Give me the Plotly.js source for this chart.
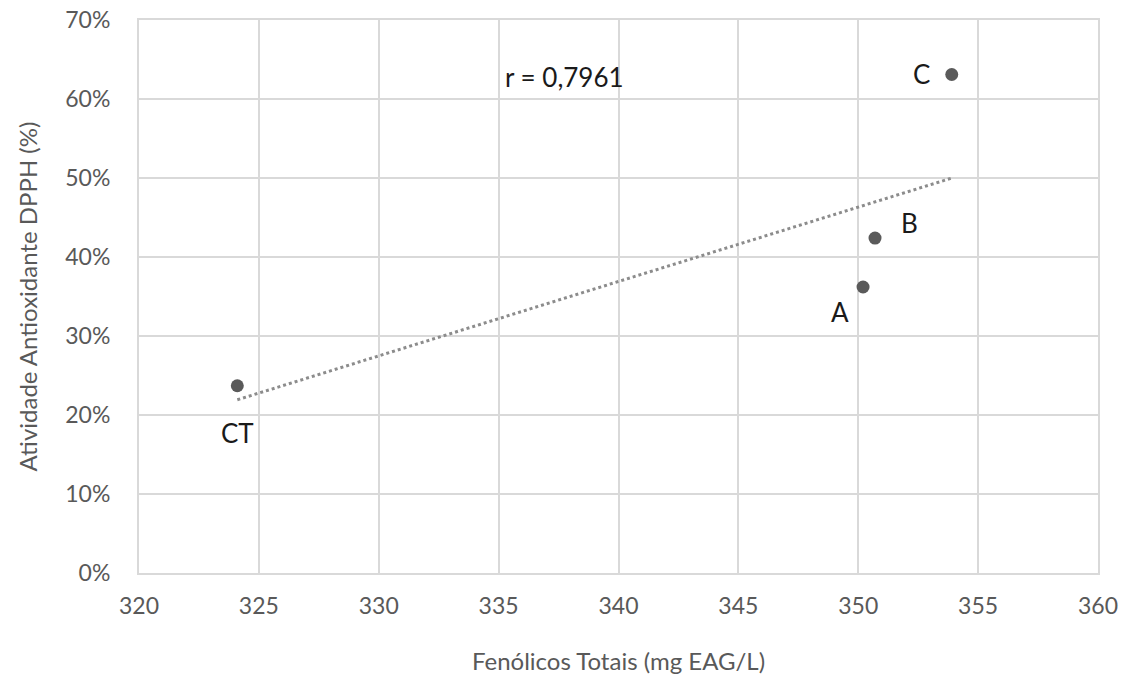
<!DOCTYPE html>
<html>
<head>
<meta charset="utf-8">
<script src="https://cdn.plot.ly/plotly-3.0.1.min.js"></script>
<style>html,body{margin:0;padding:0;background:#fff;}#chart{width:1134px;height:682px;}</style>
</head>
<body>
<div id="chart"></div>
<script>
// Data
const samples = ["CT", "A", "B", "C"];
const phenolics = [324.1, 350.2, 350.7, 353.9];      // mg EAG/L
const dpph = [0.237, 0.362, 0.424, 0.631];           // fraction
const rText = "r = 0,7961";
const xTicks = [320, 325, 330, 335, 340, 345, 350, 355, 360];
const yTicks = [0, 0.1, 0.2, 0.3, 0.4, 0.5, 0.6, 0.7];

// Linear regression (trendline)
const n = phenolics.length;
const mx = phenolics.reduce((a,b)=>a+b,0)/n;
const my = dpph.reduce((a,b)=>a+b,0)/n;
let sxy=0, sxx=0;
for (let i=0;i<n;i++){ sxy += (phenolics[i]-mx)*(dpph[i]-my); sxx += (phenolics[i]-mx)**2; }
const slope = sxy/sxx, icpt = my - slope*mx;
const xmin = Math.min(...phenolics), xmax = Math.max(...phenolics);
const trendX = [xmin, xmax];
const trendY = trendX.map(x => icpt + slope*x);

const labelOffsets = {CT:[0,-47], A:[-23,-25], B:[34,15], C:[-30,1]};

const traces = [
  {x: trendX, y: trendY, mode: "lines", type: "scatter",
   line: {color: "#8c8c8c", width: 3, dash: "dot"}, hoverinfo: "skip", showlegend: false},
  {x: phenolics, y: dpph, mode: "markers", type: "scatter",
   marker: {color: "#5a5a5a", size: 13}, showlegend: false}
];

const labelFont = {family: "Lato, 'Open Sans', sans-serif", size: 26, color: "#1a1a1a"};
const annotations = samples.map((s,i)=>({
  x: phenolics[i], y: dpph[i], xref: "x", yref: "y", text: s, showarrow: false,
  xshift: labelOffsets[s][0], yshift: labelOffsets[s][1], font: labelFont
}));
annotations.push({x: 337.75, y: 0.628, xref: "x", yref: "y", text: rText, showarrow: false, font: labelFont});

const axisFont = {family: "Lato, 'Open Sans', sans-serif", size: 23, color: "#595959"};
const titleFont = {family: "Lato, 'Open Sans', sans-serif", size: 24, color: "#595959"};
const layout = {
  width: 1134, height: 682,
  margin: {l: 139, r: 36, t: 20, b: 109},
  paper_bgcolor: "#ffffff", plot_bgcolor: "#ffffff",
  font: axisFont,
  xaxis: {range: [320, 360], tickvals: xTicks, ticktext: xTicks.map(String),
    showgrid: true, gridcolor: "#d9d9d9", gridwidth: 2, zeroline: false,
    showline: true, linecolor: "#d9d9d9", linewidth: 2, mirror: true, ticks: "",
    tickfont: axisFont, ticklabelstandoff: 11,
    title: {text: "Fenólicos Totais (mg EAG/L)", font: titleFont, standoff: 36}},
  yaxis: {range: [0, 0.7], tickvals: yTicks, tickformat: ".0%",
    showgrid: true, gridcolor: "#d9d9d9", gridwidth: 2, zeroline: false,
    showline: true, linecolor: "#d9d9d9", linewidth: 2, mirror: true, ticks: "",
    tickfont: axisFont, ticklabelstandoff: 22,
    title: {text: "Atividade Antioxidante DPPH (%)", font: titleFont, standoff: 21}},
  annotations: annotations
};

Plotly.newPlot("chart", traces, layout, {displayModeBar: false, staticPlot: true});
</script>
</body>
</html>
